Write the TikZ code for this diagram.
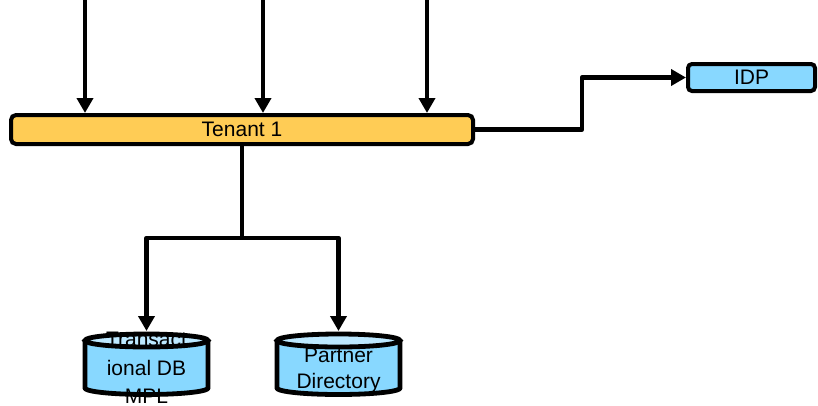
\documentclass[tikz,border=0pt]{standalone}
\usepackage{fontspec}
\setmainfont{Liberation Sans}
\usetikzlibrary{arrows.meta,calc}
\definecolor{orangefill}{HTML}{FFCC55}
\definecolor{bluefill}{HTML}{88D8FF}
\definecolor{bluetop}{HTML}{BCE8FF}
\newcommand\dbbodyfill[1]{%
  \fill[bluefill] (#1-61.5,340.5) rectangle (#1+61.5,388);
  \fill[bluefill] (#1,388) ellipse[x radius=61.5, y radius=6.5];
  \fill[bluetop] (#1,340.5) ellipse[x radius=61.5, y radius=6.5];
}
\newcommand\dboutline[1]{%
  \draw[line width=4.8pt] (#1,340.5) ellipse[x radius=61.5, y radius=6.5];
  \draw[line width=4.8pt, line join=round] (#1-61.5,340.5) -- (#1-61.5,388)
    -- plot[domain=180:0, samples=60, variable=\t] ({#1+61.5*cos(\t)},{388+6.5*sin(\t)})
    -- (#1+61.5,340.5);
}
\begin{document}
\begin{tikzpicture}[x=1pt,y=-1pt,
  conn/.style={line width=4.5pt, line join=round},
  arr/.style={conn, -{Triangle[length=15pt,width=16pt]}},
  lbl/.style={font=\fontsize{21}{25}\selectfont},
  bar/.style={lbl, draw=black, line width=4pt, rounded corners=5pt, fill=orangefill, inner sep=0pt},
  idpbox/.style={lbl, draw=black, line width=4pt, rounded corners=4pt, fill=bluefill, inner sep=0pt},
  dbtxt/.style={lbl, anchor=base, inner sep=0pt},
  dbarea/.style={inner sep=0pt, outer sep=0pt, minimum width=128pt, minimum height=67pt}]
\useasboundingbox (0,0) rectangle (818,405);

% main nodes
\node[bar, minimum width=462pt, minimum height=29pt] (tenant) at (242,129.5) {Tenant 1};
\node[idpbox, minimum width=127pt, minimum height=27pt] (idp) at (751.5,77.5) {IDP};
\node[dbarea] (db1) at (146.5,364.5) {};
\node[dbarea] (db2) at (338.5,364.5) {};

% incoming arrows from top
\coordinate (in1) at (85,-3);
\coordinate (in2) at (263,-3);
\coordinate (in3) at (427,-3);
\draw[arr] (in1) -- (in1 |- tenant.north);
\draw[arr] (in2) -- (in2 |- tenant.north);
\draw[arr] (in3) -- (in3 |- tenant.north);

% tenant to IDP
\draw[arr] (tenant.east) -- ++(107,0) |- (idp.west);

% tenant to databases
\coordinate (j) at (242,238);
\draw[conn] (tenant.south) -- (j);
\draw[arr] (j) -| (db1.north);
\draw[arr] (j) -| (db2.north);

% cylinders
\dbbodyfill{146.5}
\dbbodyfill{338.5}
\node[dbtxt] (t1a) at (146.5,346.2) {Transact};
\node[dbtxt] (t1b) at (146.5,375.5) {ional DB};
\node[dbtxt] (t1c) at (146.5,403) {MPL};
\node[dbtxt] (t2a) at (338.5,362.5) {Partner};
\node[dbtxt] (t2b) at (338.5,388) {Directory};
\dboutline{146.5}
\dboutline{338.5}
\end{tikzpicture}
\end{document}
